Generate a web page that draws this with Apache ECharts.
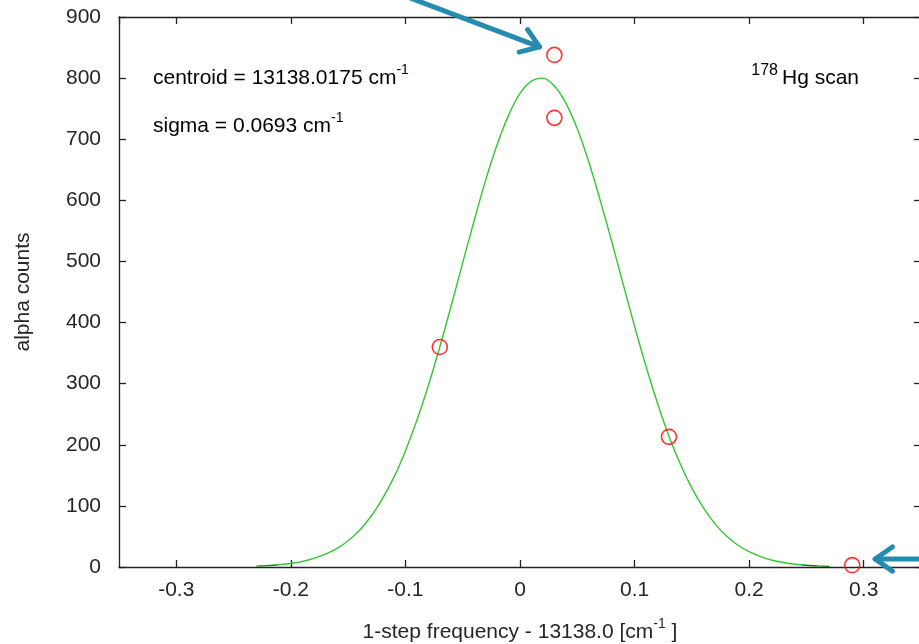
<!DOCTYPE html>
<html>
<head>
<meta charset="utf-8">
<script src="https://cdn.jsdelivr.net/npm/echarts@6/dist/echarts.min.js"></script>
<style>
  html, body { margin: 0; padding: 0; background: #ffffff; }
  #chart { width: 919px; height: 644px; }
</style>
</head>
<body>
<div id="chart"></div>
<script>
// Measured scan steps: offset from 13138.0 cm^-1 and the alpha counts at each step
const stepOffsets = [0.03, 0.03, -0.07, 0.13, 0.29];
const alphaCounts = [838, 735, 360, 213, 3];

// Fitted Gaussian profile, sampled along the scan range
const fitOffsets = [
  -0.23, -0.22, -0.21, -0.20, -0.19, -0.18, -0.17, -0.16, -0.15, -0.14,
  -0.13, -0.12, -0.11, -0.10, -0.09, -0.08, -0.07, -0.06, -0.05, -0.04,
  -0.03, -0.02, -0.01, 0.00, 0.01, 0.02, 0.03, 0.04, 0.05, 0.06,
  0.07, 0.08, 0.09, 0.10, 0.11, 0.12, 0.13, 0.14, 0.15, 0.16,
  0.17, 0.18, 0.19, 0.20, 0.21, 0.22, 0.23, 0.24, 0.25, 0.26, 0.27
];
const fitCounts = [
  1.4, 2.2, 3.7, 5.8, 9, 14, 21, 30, 43, 60,
  83, 112, 147, 190, 240, 297, 360, 428, 498, 567,
  633, 691, 739, 775, 795, 800, 787, 759, 717, 663,
  600, 533, 463, 394, 328, 268, 214, 168, 129, 97,
  71, 51, 36, 25, 17, 11, 7.3, 4.6, 2.9, 1.8, 1.0
];

// Annotation arrows, in data coordinates (tail -> tip)
const arrowTails = [[-0.114, 944], [0.37, 13]];
const arrowTips = [[0.017, 851], [0.310, 13]];

const xRange = [-0.35, 0.35];
const yRange = [0, 900];
const yStep = 100;

const FONT = '"Liberation Sans", Arial, sans-serif';
const TEXT = '#262626';
const AXIS = '#222222';
const FS = 21;

const chart = echarts.init(document.getElementById('chart'), null, { renderer: 'canvas' });

const axisLineStyle = { color: AXIS, width: 1.3 };
const tickStyle = { inside: true, length: 7, lineStyle: { color: AXIS, width: 1.3 } };
const fmtX = v => String(Math.round(v * 10) / 10);

const supRich = {
  a: { fontSize: FS, fontFamily: FONT, color: TEXT, lineHeight: 26, verticalAlign: 'bottom' },
  s: { fontSize: 14, fontFamily: FONT, color: TEXT, lineHeight: 14, verticalAlign: 'top' },
  m: { fontSize: 16, fontFamily: FONT, color: TEXT, lineHeight: 16, verticalAlign: 'top', padding: [0, 4, 0, 0] }
};

const option = {
  animation: false,
  backgroundColor: '#ffffff',
  grid: {
    left: 119, top: 17, width: 802, height: 550,
    containLabel: false, outerBoundsMode: 'none'
  },
  xAxis: [
    {
      type: 'value', position: 'bottom', min: xRange[0], max: xRange[1], splitNumber: 7,
      axisLine: { show: true, onZero: false, lineStyle: axisLineStyle },
      axisTick: tickStyle,
      splitLine: { show: false },
      axisLabel: {
        margin: 13, fontSize: FS, fontFamily: FONT, color: TEXT,
        showMinLabel: false, showMaxLabel: false, formatter: fmtX
      },
      name: '{a|1-step frequency - 13138.0 [cm}{s|-1}{a| ]}',
      nameLocation: 'middle', nameGap: 50,
      nameTextStyle: { rich: supRich }
    },
    {
      type: 'value', position: 'top', min: xRange[0], max: xRange[1], splitNumber: 7,
      axisLine: { show: true, onZero: false, lineStyle: axisLineStyle },
      axisTick: tickStyle,
      splitLine: { show: false },
      axisLabel: { show: false }
    }
  ],
  yAxis: [
    {
      type: 'value', position: 'left', min: yRange[0], max: yRange[1], interval: yStep,
      axisLine: { show: true, onZero: false, lineStyle: axisLineStyle },
      axisTick: tickStyle,
      splitLine: { show: false },
      axisLabel: { margin: 18, fontSize: FS, fontFamily: FONT, color: TEXT },
      name: 'alpha counts', nameLocation: 'middle', nameGap: 85, nameRotate: 90,
      nameTextStyle: { fontSize: FS, fontFamily: FONT, color: TEXT }
    },
    {
      type: 'value', position: 'right', min: yRange[0], max: yRange[1], interval: yStep,
      axisLine: { show: true, onZero: false, lineStyle: axisLineStyle },
      axisTick: tickStyle,
      splitLine: { show: false },
      axisLabel: { show: false }
    }
  ],
  visualMap: {
    type: 'piecewise', show: false, seriesIndex: 0, dimension: 0,
    pieces: [
      { lt: -0.212, color: '#127f12' },
      { gte: -0.212, lte: 0.246, color: '#33c633' },
      { gt: 0.246, color: '#127f12' }
    ]
  },
  series: [
    {
      name: 'Gaussian fit', type: 'line', xAxisIndex: 0, yAxisIndex: 0,
      data: fitOffsets.map((x, i) => [x, fitCounts[i]]),
      showSymbol: false, smooth: 0.3, z: 3,
      lineStyle: { width: 1.4 }
    },
    {
      name: 'alpha counts', type: 'scatter', xAxisIndex: 0, yAxisIndex: 0,
      data: stepOffsets.map((x, i) => [x, alphaCounts[i]]),
      symbol: 'circle', symbolSize: 15, clip: false, z: 4,
      itemStyle: { color: 'rgba(255,255,255,0)', borderColor: '#ff0000', borderWidth: 1.6 }
    }
  ],
  graphic: [
    {
      type: 'text', left: 153, top: 63, z: 10,
      style: { text: '{a|centroid = 13138.0175 cm}{s|-1}', rich: supRich }
    },
    {
      type: 'text', left: 153, top: 111, z: 10,
      style: { text: '{a|sigma = 0.0693 cm}{s|-1}', rich: supRich }
    },
    {
      type: 'text', right: 919 - 859, top: 63, z: 10,
      style: { text: '{m|178}{a|Hg scan}', rich: supRich }
    }
  ]
};

chart.setOption(option);

// Draw the annotation arrows from their data coordinates
const ARROW = '#258cb0';
const arrowEls = [];
arrowTails.forEach((tail, i) => {
  const p0 = chart.convertToPixel({ gridIndex: 0 }, tail);
  const p1 = chart.convertToPixel({ gridIndex: 0 }, arrowTips[i]);
  const dx = p0[0] - p1[0], dy = p0[1] - p1[1];
  const len = Math.hypot(dx, dy);
  const ux = dx / len, uy = dy / len;
  const head = 21, ang = 35 * Math.PI / 180;
  const rot = a => [p1[0] + head * (ux * Math.cos(a) - uy * Math.sin(a)),
                    p1[1] + head * (ux * Math.sin(a) + uy * Math.cos(a))];
  const style = { stroke: ARROW, lineWidth: 5, lineCap: 'round', lineJoin: 'round', fill: null };
  arrowEls.push({ type: 'line', z: 20, shape: { x1: p0[0], y1: p0[1], x2: p1[0], y2: p1[1] }, style });
  arrowEls.push({ type: 'polyline', z: 20, shape: { points: [rot(ang), p1, rot(-ang)] }, style });
});
chart.setOption({ graphic: option.graphic.concat(arrowEls) }, { replaceMerge: ['graphic'] });
</script>
</body>
</html>
